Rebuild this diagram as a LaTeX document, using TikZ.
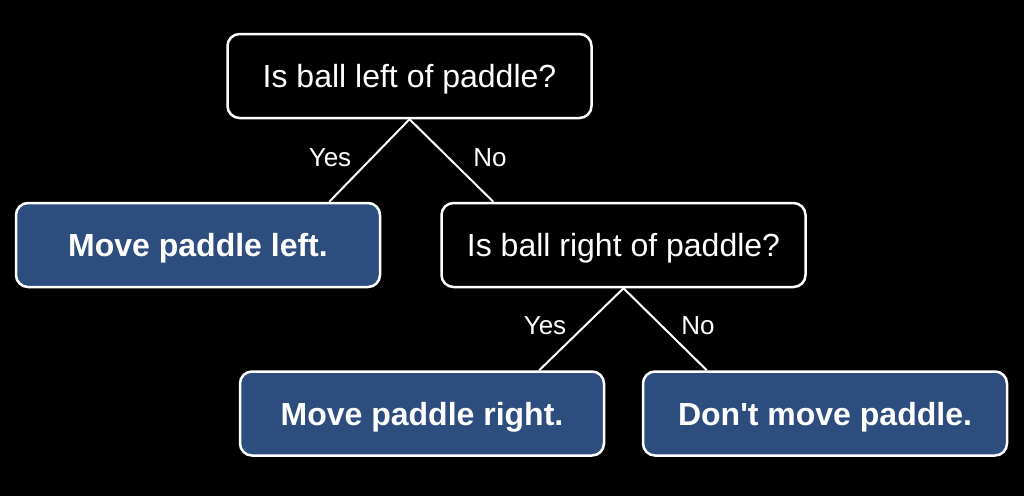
\documentclass[tikz,border=0pt]{standalone}
\usepackage{fontspec}
\setmainfont{Liberation Sans}
\definecolor{leafblue}{HTML}{2C4D7D}
\begin{document}
\begin{tikzpicture}[x=1pt,y=-1pt,
  box/.style={draw=white, line width=2.5pt, rounded corners=12pt,
    minimum width=364pt, minimum height=84pt, inner sep=0pt,
    text=white, font=\fontsize{32}{38}\selectfont,
    text height=23pt, text depth=0pt, align=center},
  question/.style={box, fill=black},
  leaf/.style={box, fill=leafblue, font=\fontsize{32}{38}\selectfont\bfseries},
  conn/.style={draw=white, line width=2pt},
  lbl/.style={text=white, font=\fontsize{26}{30}\selectfont, inner sep=0pt,
    text height=18.5pt, text depth=0pt}
]
\fill[black] (0,0) rectangle (1024,496);
\useasboundingbox (0,0) rectangle (1024,496);

\node[question] (root) at (409.5,76) {Is ball left of paddle?};
\node[leaf] (left) at (198,245) {Move paddle left.};
\node[question] (mid) at (623.5,245) {Is ball right of paddle?};
\node[leaf] (bl) at (422,413.5) {Move paddle right.};
\node[leaf] (br) at (825,413.5) {Don\textquotesingle t move paddle.};

\draw[conn] (root.south) -- ([xshift=-52pt]left.north east);
\draw[conn] (root.south) -- ([xshift=53pt]mid.north west);
\draw[conn] (mid.south) -- ([xshift=-66pt]bl.north east);
\draw[conn] (mid.south) -- ([xshift=65pt]br.north west);

\node[lbl] (y1) at (330,157) {Yes};
\node[lbl] (n1) at (490,157) {No};
\node[lbl] (y2) at (545,325) {Yes};
\node[lbl] (n2) at (698,325) {No};
\end{tikzpicture}
\end{document}
